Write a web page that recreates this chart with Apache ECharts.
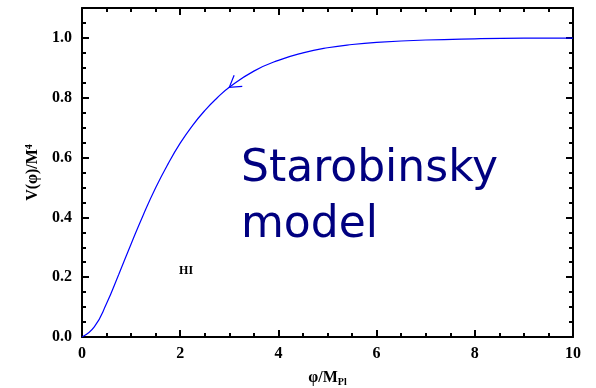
<!DOCTYPE html>
<html>
<head>
<meta charset="utf-8">
<script src="https://cdn.jsdelivr.net/npm/echarts@6/dist/echarts.min.js"></script>
<style>
  html, body { margin: 0; padding: 0; background: #fff; overflow: hidden; }
  #chart { width: 596px; height: 388px; }
</style>
</head>
<body>
<div id="chart"></div>
<script>
// Field values phi / M_Pl and the potential V(phi) / M^4 along the curve
const phi = [0, 0.25, 0.5, 0.75, 1, 1.25, 1.5, 1.75, 2, 2.25, 2.5, 2.75, 3, 3.5, 4, 4.5, 5, 5.5, 6, 7, 8, 9, 10];
const potential = [0, 0.034, 0.112, 0.210, 0.311, 0.409, 0.499, 0.578, 0.648, 0.707, 0.757, 0.799, 0.835, 0.889, 0.925, 0.950, 0.967, 0.978, 0.985, 0.993, 0.997, 0.999, 0.9994];
// Axis ticks
const xTicks = [0, 2, 4, 6, 8, 10];
const yTicks = [0.0, 0.2, 0.4, 0.6, 0.8, 1.0];
// Point on the curve carrying the direction-of-roll arrow, and the "HI" marker
const arrowIndex = 12;
const hiLabel = 'HI';
const hiPos = [2.12, 0.22];
const modelTitle = ['Starobinsky', 'model'];

const chart = echarts.init(document.getElementById('chart'), null, { width: 596, height: 388 });
const axisFont = { fontFamily: 'Liberation Serif', fontWeight: 'bold', fontSize: 16, color: '#000' };
const axisLine = { show: true, onZero: false, lineStyle: { color: '#000', width: 2 } };

const xBase = {
  type: 'value', min: 0, max: 10, interval: 2,
  axisLine: axisLine,
  axisTick: { show: true, inside: true, length: 7, lineStyle: { color: '#000', width: 2 } },
  minorTick: { show: true, splitNumber: 4, length: 4, lineStyle: { color: '#000', width: 2 } },
  splitLine: { show: false }
};
const yBase = {
  type: 'value', min: 0, max: 1.1, interval: 0.2,
  axisLine: axisLine,
  axisTick: { show: true, inside: true, length: 7, lineStyle: { color: '#000', width: 2 } },
  minorTick: { show: true, splitNumber: 4, length: 4, lineStyle: { color: '#000', width: 2 } },
  splitLine: { show: false }
};

chart.setOption({
  animation: false,
  backgroundColor: '#fff',
  grid: { left: 82, right: 23, top: 8, bottom: 51, containLabel: false, outerBoundsMode: 'none' },
  xAxis: [
    Object.assign({}, xBase, {
      position: 'bottom',
      axisLabel: Object.assign({}, axisFont, {
        margin: 9,
        formatter: v => xTicks.includes(v) ? String(v) : ''
      }),
      name: '{a|φ/M}{s|Pl}',
      nameLocation: 'middle',
      nameGap: 32,
      nameTextStyle: {
        rich: {
          a: { fontFamily: 'Liberation Serif', fontWeight: 'bold', fontSize: 16, color: '#000' },
          s: { fontFamily: 'Liberation Serif', fontWeight: 'bold', fontSize: 10, color: '#000', padding: [8, 0, 0, 0] }
        }
      }
    }),
    Object.assign({}, xBase, { position: 'top', axisLabel: { show: false } })
  ],
  yAxis: [
    Object.assign({}, yBase, {
      position: 'left',
      axisLabel: Object.assign({}, axisFont, {
        margin: 10,
        showMaxLabel: false,
        formatter: v => {
          const t = yTicks.find(y => Math.abs(y - v) < 1e-9);
          return t === undefined ? '' : t.toFixed(1);
        }
      }),
      name: '{a|V(φ)/M}{s|4}',
      nameLocation: 'middle',
      nameGap: 38,
      nameRotate: 90,
      nameTextStyle: {
        rich: {
          a: { fontFamily: 'Liberation Serif', fontWeight: 'bold', fontSize: 16, color: '#000' },
          s: { fontFamily: 'Liberation Serif', fontWeight: 'bold', fontSize: 10, color: '#000', padding: [0, 0, 8, 0] }
        }
      }
    }),
    Object.assign({}, yBase, { position: 'right', axisLabel: { show: false } })
  ],
  series: [{
    type: 'line',
    data: phi.map((p, i) => [p, potential[i]]),
    smooth: true,
    showSymbol: false,
    symbol: 'none',
    lineStyle: { color: '#0000ff', width: 1.2 },
    silent: true
  }]
});

// Open arrowhead on the curve, pointing toward decreasing phi
const tip = chart.convertToPixel({ gridIndex: 0 }, [phi[arrowIndex], potential[arrowIndex]]);
const back = chart.convertToPixel({ gridIndex: 0 }, [phi[arrowIndex + 1], potential[arrowIndex + 1]]);
const fwd = chart.convertToPixel({ gridIndex: 0 }, [phi[arrowIndex - 1], potential[arrowIndex - 1]]);
let dx = back[0] - fwd[0], dy = back[1] - fwd[1];
const len = Math.hypot(dx, dy); dx /= len; dy /= len;
const barb = 13, spread = 32 * Math.PI / 180;
function rot(x, y, a) { return [x * Math.cos(a) - y * Math.sin(a), x * Math.sin(a) + y * Math.cos(a)]; }
const b1 = rot(dx, dy, spread), b2 = rot(dx, dy, -spread);
const hi = chart.convertToPixel({ gridIndex: 0 }, hiPos);

chart.setOption({
  graphic: [
    {
      type: 'polyline', silent: true,
      shape: { points: [[tip[0] + b1[0] * barb, tip[1] + b1[1] * barb], tip, [tip[0] + b2[0] * barb, tip[1] + b2[1] * barb]] },
      style: { stroke: '#0000ff', lineWidth: 1.2, fill: null }
    },
    {
      type: 'text', silent: true, x: hi[0], y: hi[1],
      style: { text: hiLabel, font: 'bold 12px "Liberation Serif"', fill: '#000', textAlign: 'center', textVerticalAlign: 'middle' }
    },
    {
      type: 'text', silent: true, x: 241, y: 170,
      style: { text: modelTitle[0], font: '44px "DejaVu Sans"', fill: '#000080', textAlign: 'left', textVerticalAlign: 'middle' }
    },
    {
      type: 'text', silent: true, x: 241, y: 226,
      style: { text: modelTitle[1], font: '44px "DejaVu Sans"', fill: '#000080', textAlign: 'left', textVerticalAlign: 'middle' }
    }
  ]
});
</script>
</body>
</html>
